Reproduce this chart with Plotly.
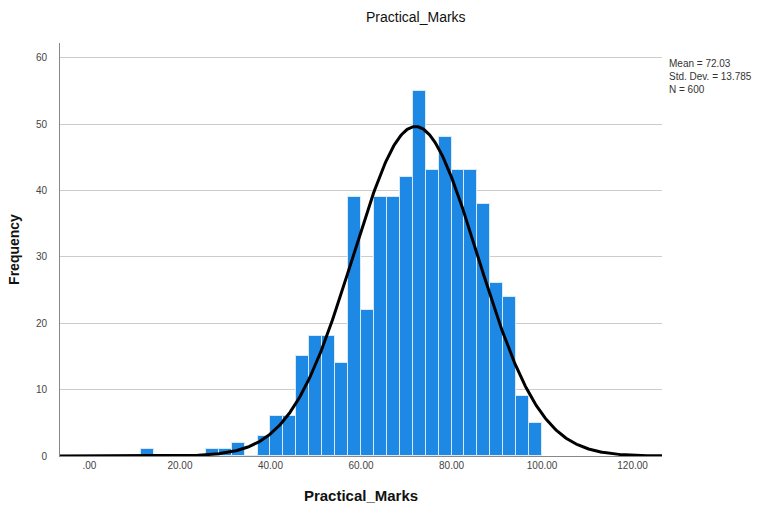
import numpy as np
import plotly.graph_objects as go

# ---- data ----
bin_start = 0.0
bin_width = 20.0 / 7.0
counts = [0, 0, 0, 0, 1, 0, 0, 0, 0, 1, 1, 2, 0, 3, 6, 6, 15, 18, 18, 14,
          39, 22, 39, 39, 42, 55, 43, 48, 43, 43, 38, 26, 24, 9, 5]
mean_val = 72.03
std_val = 13.785
n_val = 600
x_tick_vals = [0, 20, 40, 60, 80, 100, 120]
x_tick_text = [".00", "20.00", "40.00", "60.00", "80.00", "100.00", "120.00"]
y_tick_vals = [0, 10, 20, 30, 40, 50, 60]
x_range = [-6.5, 126.5]
y_range = [0, 62.2]

centers = [bin_start + (i + 0.5) * bin_width for i in range(len(counts))]

xs = np.linspace(x_range[0], x_range[1], 600)
ys = n_val * bin_width / (std_val * np.sqrt(2 * np.pi)) * np.exp(-0.5 * ((xs - mean_val) / std_val) ** 2)

fig = go.Figure()
fig.add_trace(go.Bar(
    x=centers, y=counts, width=bin_width,
    marker=dict(color="#1E88E5", line=dict(color="#dbe9f7", width=1)),
    hoverinfo="x+y", showlegend=False,
))
fig.add_trace(go.Scatter(
    x=xs, y=ys, mode="lines", line=dict(color="black", width=3),
    showlegend=False, hoverinfo="skip",
))

L, R, T, B = 60, 105, 43, 56
pw = 767 - L - R
ph = 514 - T - B

fig.update_layout(
    width=767, height=514,
    margin=dict(l=L, r=R, t=T, b=B),
    paper_bgcolor="white", plot_bgcolor="white",
    bargap=0,
    font=dict(family="Liberation Sans, Arial, sans-serif", color="#333"),
    annotations=[
        dict(text="Practical_Marks", x=(416 - L) / pw, y=1 + (T - 17) / ph,
             xref="paper", yref="paper", yanchor="middle",
             showarrow=False, font=dict(size=14, color="#111")),
        dict(text="Mean = 72.03<br>Std. Dev. = 13.785<br>N = 600",
             xref="paper", yref="paper", x=(667 - L) / pw, y=1 - (56 - T) / ph,
             xanchor="left", yanchor="top",
             align="left", showarrow=False, font=dict(size=10, color="#333")),
    ],
)

fig.update_xaxes(
    range=x_range, tickvals=x_tick_vals, ticktext=x_tick_text,
    showgrid=False, zeroline=False, showline=True, linecolor="#888", linewidth=1,
    ticks="", tickfont=dict(size=10, color="#444"),
    title=dict(text="<b>Practical_Marks</b>", font=dict(size=15, color="#111"), standoff=20),
)
fig.update_yaxes(
    range=y_range, tickvals=y_tick_vals,
    showgrid=True, gridcolor="#cccccc", gridwidth=1, zeroline=False,
    showline=True, linecolor="#888", linewidth=1,
    ticks="", tickfont=dict(size=10, color="#444"), ticklabelstandoff=10,
    title=dict(text="<b>Frequency</b>", font=dict(size=14, color="#111"), standoff=12),
)

fig.write_html("out.html")
